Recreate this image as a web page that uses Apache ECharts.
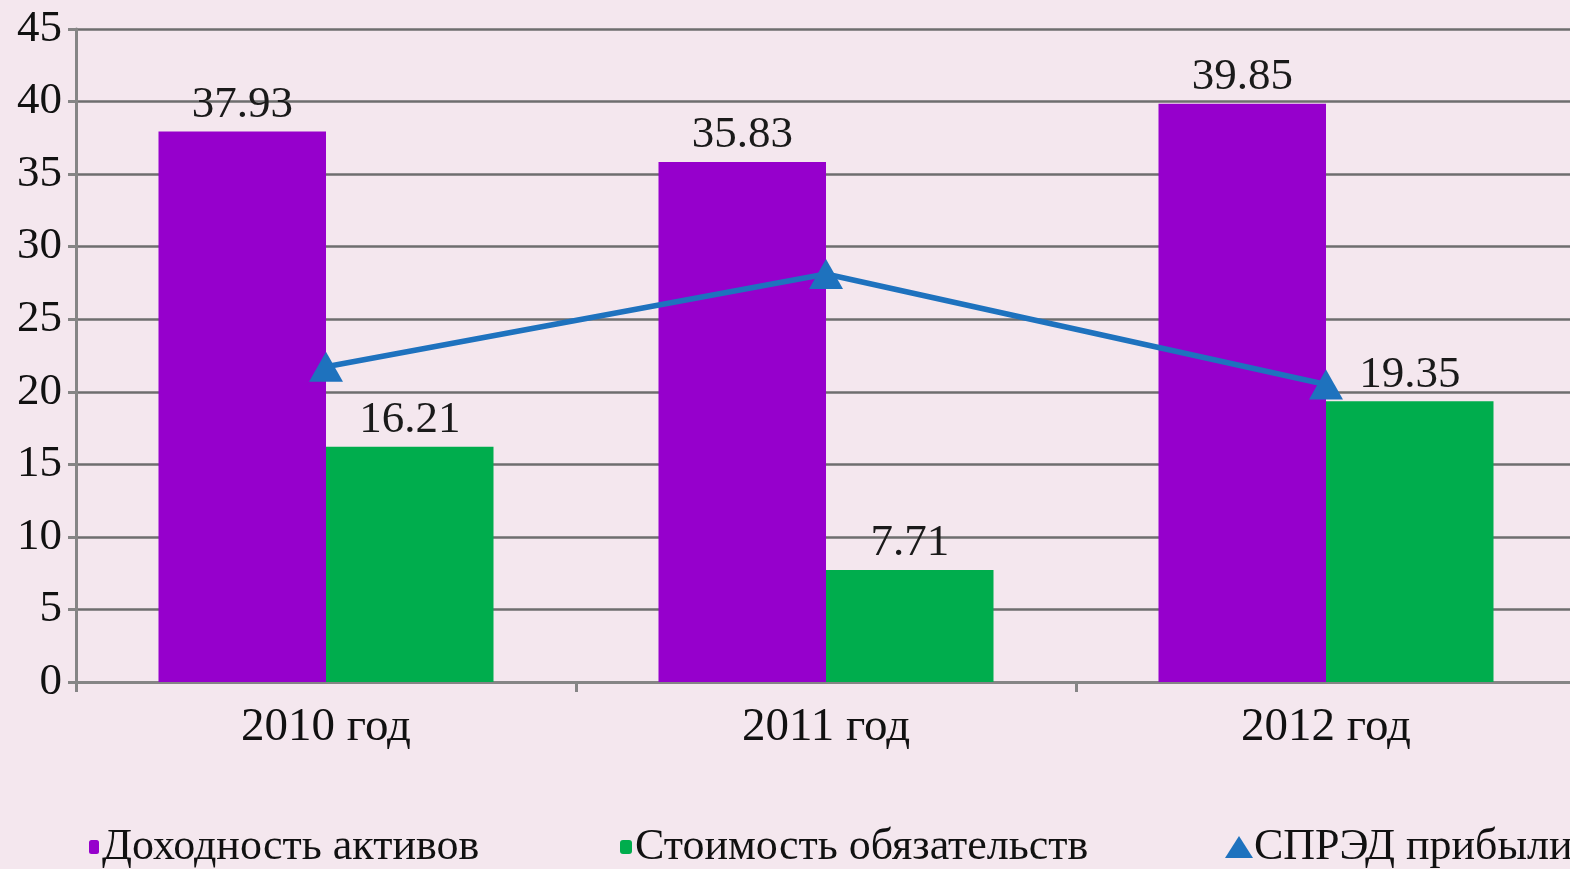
<!DOCTYPE html>
<html>
<head>
<meta charset="utf-8">
<script src="https://cdn.jsdelivr.net/npm/echarts@6/dist/echarts.min.js"></script>
<style>
html,body{margin:0;padding:0;background:#F4E7EE;overflow:hidden;}
#chart{width:1600px;height:869px;}
</style>
</head>
<body>
<div id="chart"></div>
<script>
const categories = ['2010 год', '2011 год', '2012 год'];
const assetsReturn = [37.93, 35.83, 39.85];
const liabilitiesCost = [16.21, 7.71, 19.35];
const spread = [21.72, 28.12, 20.50];
const seriesNames = ['Доходность активов', 'Стоимость обязательств', 'СПРЭД прибыли'];

const FONT = 'Liberation Serif';
const chart = echarts.init(document.getElementById('chart'));
chart.setOption({
  backgroundColor: '#F4E7EE',
  animation: false,
  textStyle: {fontFamily: FONT},
  grid: {left: 76, right: 24, top: 29, bottom: 187, containLabel: false},
  legend: [
    {data: [seriesNames[0]], left: 84, top: 820, itemWidth: 10, itemHeight: 14, itemGap: 0,
     textStyle: {fontFamily: FONT, fontSize: 44, color: '#111', padding: [0,0,0,-2]}},
    {data: [seriesNames[1]], left: 615, top: 820, itemWidth: 12, itemHeight: 14, itemGap: 0,
     textStyle: {fontFamily: FONT, fontSize: 44, color: '#111', padding: [0,0,0,-2]}},
    {data: [{name: seriesNames[2], icon: 'triangle'}], left: 1220, top: 820, itemWidth: 28, itemHeight: 22, itemGap: 0,
     textStyle: {fontFamily: FONT, fontSize: 44, color: '#111', padding: [0,0,0,-4]}}
  ],
  xAxis: {
    type: 'category',
    data: categories,
    axisLine: {lineStyle: {color: '#858585', width: 3}},
    axisTick: {show: true, length: 10, lineStyle: {color: '#858585', width: 3}},
    axisLabel: {fontFamily: FONT, fontSize: 47, color: '#111', margin: 22}
  },
  yAxis: {
    type: 'value',
    min: 0, max: 45, interval: 5,
    axisLine: {show: true, lineStyle: {color: '#858585', width: 3}},
    axisTick: {show: true, length: 8, lineStyle: {color: '#858585', width: 3}},
    axisLabel: {fontFamily: FONT, fontSize: 45, color: '#111', margin: 14},
    splitLine: {lineStyle: {color: '#6e6e6e', width: 2.5}}
  },
  series: [
    {
      name: seriesNames[0], type: 'bar', data: assetsReturn,
      barGap: '0%', barCategoryGap: '33%',
      itemStyle: {color: '#9600CC'},
      label: {show: true, position: 'top', distance: 4, fontFamily: FONT, fontSize: 45, color: '#1a1a1a',
              formatter: p => p.value.toFixed(2)}
    },
    {
      name: seriesNames[1], type: 'bar', data: liabilitiesCost,
      itemStyle: {color: '#00AD4D'},
      label: {show: true, position: 'top', distance: 4, fontFamily: FONT, fontSize: 45, color: '#1a1a1a',
              formatter: p => p.value.toFixed(2)}
    },
    {
      name: seriesNames[2], type: 'line', data: spread,
      symbol: 'triangle', symbolSize: [34, 30],
      lineStyle: {color: '#1E72BE', width: 5.5},
      itemStyle: {color: '#1E72BE'},
      z: 5
    }
  ]
});
</script>
</body>
</html>
